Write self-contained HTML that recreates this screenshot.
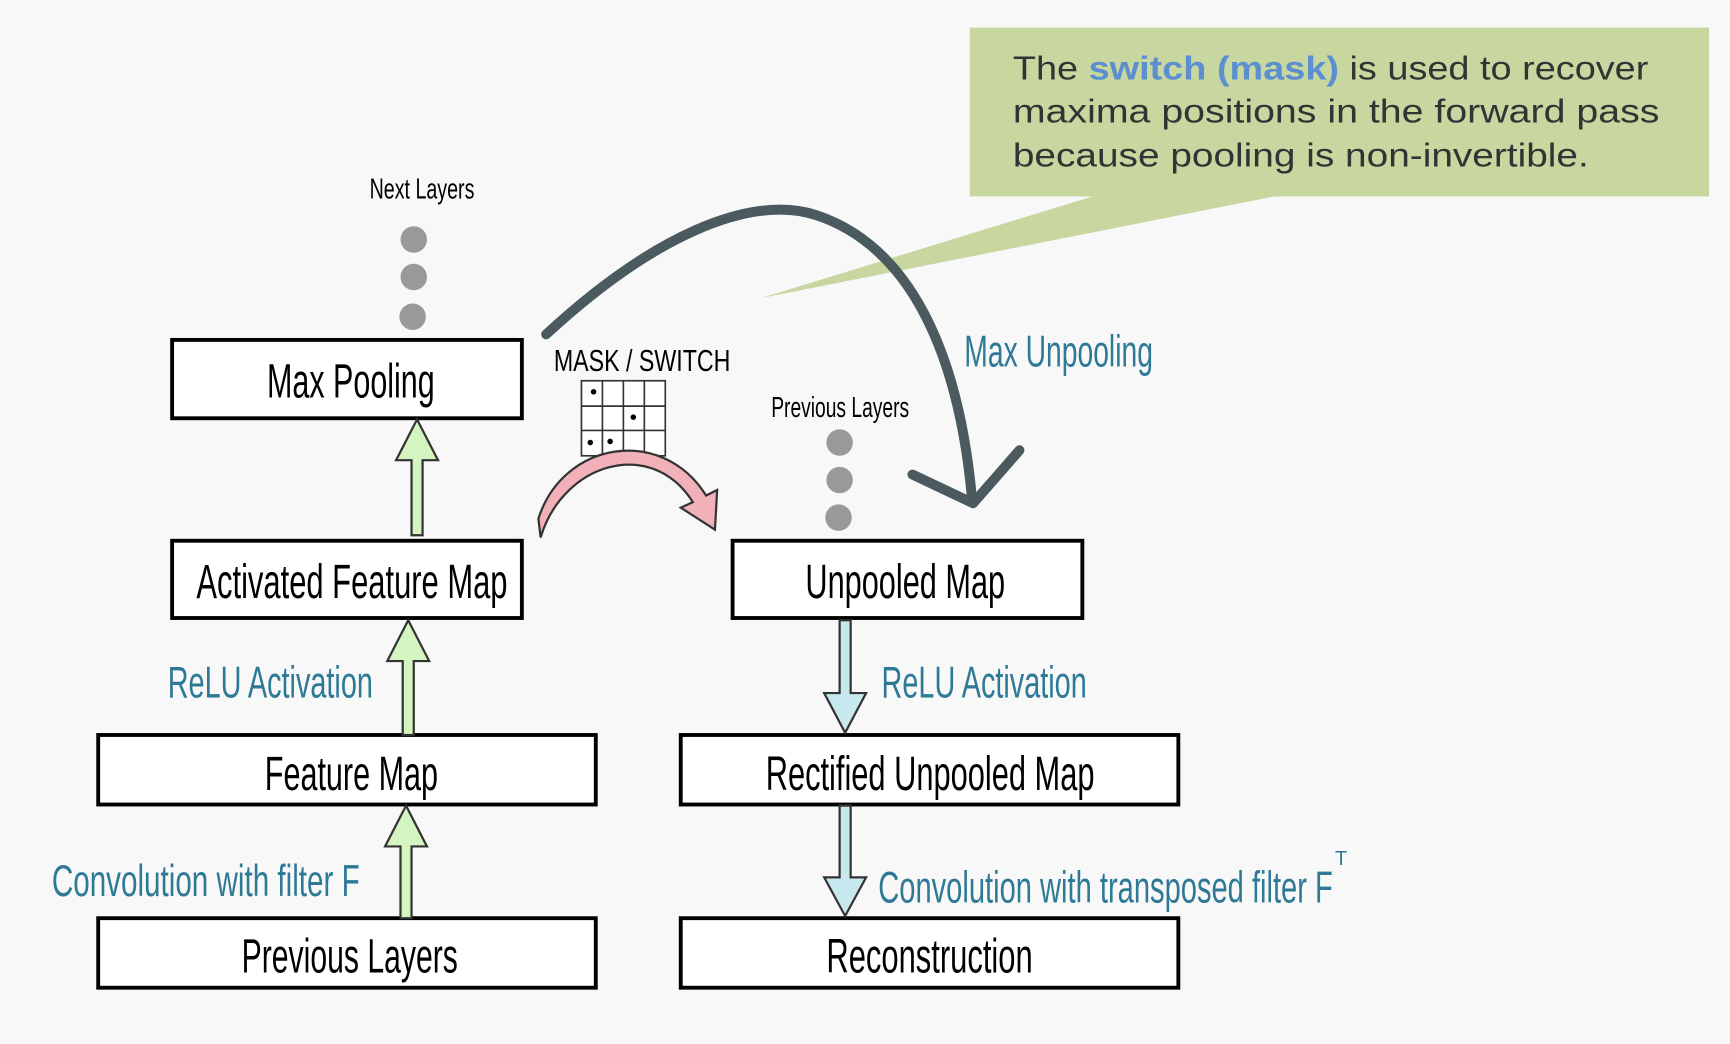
<!DOCTYPE html>
<html><head><meta charset="utf-8"><style>
html,body{margin:0;padding:0;background:#f8f8f8;}
svg{display:block;}
.h{font-family:"Liberation Sans",sans-serif;}
</style></head><body>
<svg width="1730" height="1044" viewBox="0 0 1568 946" preserveAspectRatio="none" class="h">
<rect width="1568" height="946" fill="#f8f8f8"/>
<g>
<polygon points="990,178 1155,178 690,270" fill="#c8d6a0"/>
<rect x="879" y="25" width="670" height="153" fill="#c8d6a0"/>
<text x="918" y="72" font-size="30" fill="#333" textLength="576" lengthAdjust="spacingAndGlyphs">The <tspan fill="#5b8fd0" font-weight="bold">switch (mask)</tspan> is used to recover</text>
<text x="918" y="111" font-size="30" fill="#333" textLength="586" lengthAdjust="spacingAndGlyphs">maxima positions in the forward pass</text>
<text x="918" y="151" font-size="30" fill="#333" textLength="522" lengthAdjust="spacingAndGlyphs">because pooling is non-invertible.</text>
</g>
<g fill="#999">
<circle cx="375" cy="217" r="12"/><circle cx="375" cy="251" r="12"/><circle cx="374" cy="287" r="12"/>
<circle cx="761" cy="401" r="12"/><circle cx="761" cy="435" r="12"/><circle cx="760" cy="469" r="12"/>
</g>
<text x="335" y="180" font-size="26" textLength="95" lengthAdjust="spacingAndGlyphs">Next Layers</text>
<text x="699" y="378" font-size="26" textLength="125" lengthAdjust="spacingAndGlyphs">Previous Layers</text>
<text x="502" y="336" font-size="28" textLength="160" lengthAdjust="spacingAndGlyphs">MASK / SWITCH</text>
<g stroke="#333" stroke-width="1.5" fill="#fff">
<rect x="527" y="345" width="76" height="68"/>
<line x1="546" y1="345" x2="546" y2="413"/><line x1="565" y1="345" x2="565" y2="413"/><line x1="584" y1="345" x2="584" y2="413"/>
<line x1="527" y1="368" x2="603" y2="368"/><line x1="527" y1="390" x2="603" y2="390"/>
<g fill="#000" stroke="none"><circle cx="538" cy="355" r="2.5"/><circle cx="574" cy="378" r="2.5"/><circle cx="535" cy="401" r="2.5"/><circle cx="553" cy="400" r="2.5"/></g>
</g>
<g fill="#fff" stroke="#000" stroke-width="3.5">
<rect x="156" y="308" width="317" height="71"/>
<rect x="156" y="490" width="317" height="70"/>
<rect x="89" y="666" width="451" height="63"/>
<rect x="89" y="832" width="451" height="63"/>
<rect x="664" y="490" width="317" height="70"/>
<rect x="617" y="666" width="451" height="63"/>
<rect x="617" y="832" width="451" height="63"/>
</g>
<g font-size="44" fill="#000">
<text x="242" y="360" textLength="152" lengthAdjust="spacingAndGlyphs">Max Pooling</text>
<text x="178" y="542" textLength="282" lengthAdjust="spacingAndGlyphs">Activated Feature Map</text>
<text x="240" y="716" textLength="157" lengthAdjust="spacingAndGlyphs">Feature Map</text>
<text x="219" y="881" textLength="196" lengthAdjust="spacingAndGlyphs">Previous Layers</text>
<text x="730" y="542" textLength="181" lengthAdjust="spacingAndGlyphs">Unpooled Map</text>
<text x="694" y="716" textLength="298" lengthAdjust="spacingAndGlyphs">Rectified Unpooled Map</text>
<text x="749" y="881" textLength="187" lengthAdjust="spacingAndGlyphs">Reconstruction</text>
</g>
<g fill="#d4f5c0" stroke="#333" stroke-width="2">
<polygon points="373,485 383,485 383,417 397,417 378,380 359,417 373,417"/>
<polygon points="365,666 375,666 375,599 389,599 370,562 351,599 365,599"/>
<polygon points="363,832 373,832 373,767 387,767 368,730 349,767 363,767"/>
</g>
<g fill="#c8e8f0" stroke="#333" stroke-width="2">
<polygon points="761,562 771,562 771,628 785,628 766,664 747,628 761,628"/>
<polygon points="761,730 771,730 771,795 785,795 766,830 747,795 761,795"/>
</g>
<g font-size="40" fill="#2e7a96">
<text x="152" y="632" textLength="186" lengthAdjust="spacingAndGlyphs">ReLU Activation</text>
<text x="47" y="812" textLength="279" lengthAdjust="spacingAndGlyphs">Convolution with filter F</text>
<text x="874" y="332" textLength="171" lengthAdjust="spacingAndGlyphs">Max Unpooling</text>
<text x="799" y="632" textLength="186" lengthAdjust="spacingAndGlyphs">ReLU Activation</text>
<text x="796" y="818" textLength="412" lengthAdjust="spacingAndGlyphs">Convolution with transposed filter F</text>
<text x="1210" y="784" font-size="18">T</text>
</g>
<g fill="none" stroke="#4a5a5e" stroke-width="9" stroke-linecap="round" stroke-linejoin="round">
<path d="M495,303 C590,215 680,175 740,195 C830,225 870,330 881,452"/>
<polyline points="827,430 882,456 924,408"/>
</g>
<g>
<path d="M490,487 C510,420 590,395 628,455 L617,460 L648,480 L650,444 L640,449 C600,385 510,400 488,470 Z" fill="#f2b0b8" stroke="#333" stroke-width="2"/>
</g>
</svg>
</body></html>
